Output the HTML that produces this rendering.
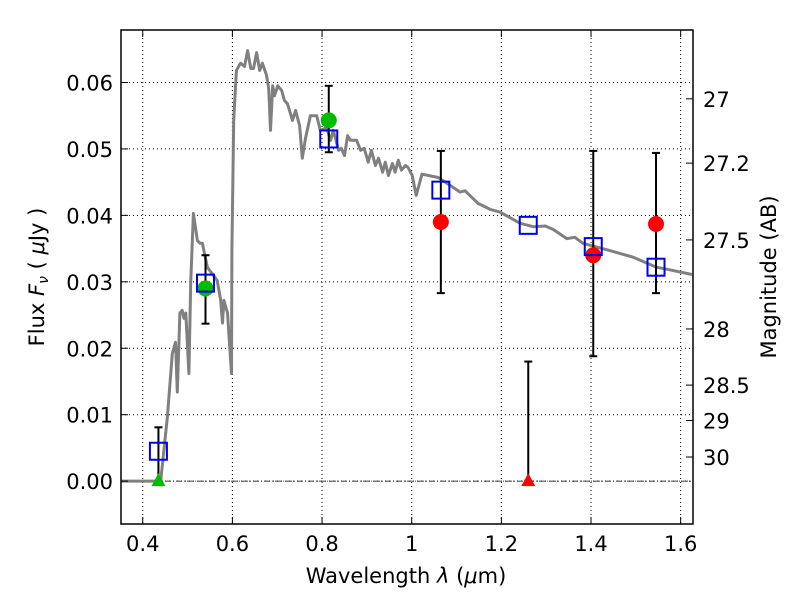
<!DOCTYPE html>
<html><head><meta charset="utf-8"><style>
body{margin:0;background:#fff}
svg text{font-family:"DejaVu Sans","Liberation Sans",sans-serif;fill:#000}
</style></head><body>
<svg id="chart" width="800" height="600" xmlns="http://www.w3.org/2000/svg">
<g id="grid"></g>
<g id="spec"></g>
<g id="marks"></g>
<g id="axes"></g>
<text x="406" y="583" font-size="21" text-anchor="middle">Wavelength  <tspan font-style="italic">λ</tspan> (<tspan font-style="italic">μ</tspan>m)</text>
<text transform="translate(44,277) rotate(-90)" font-size="21" text-anchor="middle">Flux  <tspan font-style="italic">F</tspan><tspan font-style="italic" font-size="14" dy="4">ν</tspan><tspan dy="-4">  ( </tspan><tspan font-style="italic">μ</tspan>Jy )</text>
<text transform="translate(776,277) rotate(-90)" font-size="21" text-anchor="middle">Magnitude (AB)</text>
</svg>
<script>
const specWave=[0.353,0.436,0.440,0.455,0.466,0.473,0.477,0.483,0.488,0.492,0.496,0.503,0.507,0.513,0.522,0.528,0.533,0.544,0.566,0.574,0.578,0.581,0.589,0.598,0.599,0.603,0.609,0.618,0.627,0.634,0.641,0.647,0.654,0.661,0.667,0.676,0.681,0.685,0.690,0.694,0.701,0.710,0.716,0.723,0.734,0.741,0.750,0.756,0.763,0.774,0.788,0.796,0.810,0.819,0.825,0.837,0.843,0.850,0.857,0.863,0.877,0.886,0.894,0.903,0.910,0.919,0.926,0.935,0.941,0.948,0.957,0.963,0.970,0.977,0.986,0.992,1.001,1.010,1.023,1.059,1.086,1.108,1.119,1.148,1.175,1.197,1.242,1.271,1.298,1.315,1.346,1.364,1.382,1.442,1.494,1.546,1.569,1.625];
const specFlux=[0,0,0,0.0097,0.0192,0.0209,0.0134,0.0253,0.0257,0.0245,0.0253,0.0162,0.0298,0.0403,0.0362,0.0358,0.0358,0.0322,0.0302,0.0272,0.0238,0.0272,0.0253,0.0162,0.0347,0.0543,0.0618,0.0629,0.0624,0.0648,0.0621,0.0621,0.0645,0.0618,0.0629,0.0611,0.0591,0.0528,0.0595,0.0580,0.0595,0.0588,0.0573,0.0568,0.0543,0.0558,0.0535,0.0486,0.0516,0.0550,0.0550,0.0528,0.0532,0.0513,0.0528,0.0498,0.0501,0.0490,0.0520,0.0513,0.0513,0.0498,0.0501,0.0480,0.0498,0.0475,0.0486,0.0465,0.0480,0.0460,0.0478,0.0465,0.0483,0.0468,0.0475,0.0472,0.0460,0.0430,0.0462,0.0457,0.0445,0.0435,0.0437,0.0418,0.0409,0.0405,0.0388,0.0383,0.0384,0.0379,0.0365,0.0367,0.0358,0.0347,0.0337,0.0322,0.0319,0.0311];
const bandWave=[0.435,0.54,0.815,1.065,1.26,1.405,1.545];
const modelFlux=[0.0045,0.0298,0.0515,0.0438,0.0385,0.0353,0.0322];
const obsFlux=[0,0.029,0.0543,0.039,0,0.034,0.0387];
const errLo=[0,0.0237,0.0495,0.0283,0,0.0188,0.0283];
const errHi=[0.0081,0.0340,0.0595,0.0497,0.018,0.0497,0.0494];
const obsColor=['#00bb00','#00bb00','#00bb00','red','red','red','red'];
const upperLimit=[true,false,false,false,true,false,false];
const xTicks=[0.4,0.6,0.8,1.0,1.2,1.4,1.6];
const xTickLabels=['0.4','0.6','0.8','1','1.2','1.4','1.6'];
const yTicks=[0,0.01,0.02,0.03,0.04,0.05,0.06];
const yTickLabels=['0.00','0.01','0.02','0.03','0.04','0.05','0.06'];
const magTicks=[27,27.2,27.5,28,28.5,29,30];
const magTickLabels=['27','27.2','27.5','28','28.5','29','30'];

const L=121,R=693,T=30,B=524;
const xMin=0.3515,xMax=1.6275,yMin=-0.00645,yMax=0.0679;
const X=v=>L+(v-xMin)/(xMax-xMin)*(R-L);
const Y=v=>B-(v-yMin)/(yMax-yMin)*(B-T);
const NS='http://www.w3.org/2000/svg';
function mk(tag,attrs,parent){const e=document.createElementNS(NS,tag);for(const k in attrs)e.setAttribute(k,attrs[k]);parent.appendChild(e);return e;}
const grid=document.getElementById('grid'),spec=document.getElementById('spec'),marks=document.getElementById('marks'),axes=document.getElementById('axes');

xTicks.forEach((t,i)=>{
  const l=mk('line',{x1:X(t),x2:X(t),y1:T,y2:B,stroke:'#000','stroke-width':1,'stroke-dasharray':'1,3'},grid);
  
  
  mk('line',{x1:X(t),x2:X(t),y1:B,y2:B-7,stroke:'#000','stroke-width':1},axes);
  mk('line',{x1:X(t),x2:X(t),y1:T,y2:T+7,stroke:'#000','stroke-width':1},axes);
  const tx=mk('text',{x:X(t),y:B+27,'font-size':21,'text-anchor':'middle'},axes);
  tx.textContent=xTickLabels[i];
  
  
});
yTicks.forEach((t,i)=>{
  const l=mk('line',{x1:L,x2:R,y1:Y(t),y2:Y(t),stroke:'#000','stroke-width':1,'stroke-dasharray':'1,3'},grid);
  
  
  mk('line',{x1:L,x2:L+7,y1:Y(t),y2:Y(t),stroke:'#000','stroke-width':1},axes);
  const tx=mk('text',{x:L-8,y:Y(t)+8,'font-size':21,'text-anchor':'end'},axes);
  tx.textContent=yTickLabels[i];
  
  
});
magTicks.forEach((m,i)=>{
  const f=Math.pow(10,(23.9-m)/2.5);
  mk('line',{x1:R,x2:R-7,y1:Y(f),y2:Y(f),stroke:'#000','stroke-width':1},axes);
  const tx=mk('text',{x:R+10,y:Y(f)+8,'font-size':21},axes);
  tx.textContent=magTickLabels[i];
  
  
});
const zl=mk('line',{x1:L,x2:R,y1:Y(0),y2:Y(0),stroke:'#000','stroke-width':0.8,'stroke-dasharray':'6,2,1,2'},grid);



const pts=specWave.map((w,i)=>X(w).toFixed(1)+','+Y(specFlux[i]).toFixed(1)).join(' ');
const pl=mk('polyline',{points:pts,fill:'none',stroke:'#808080','stroke-width':3,'stroke-linejoin':'round'},spec);



bandWave.forEach((w,i)=>{
  const x=X(w);
  const eb=mk('g',{},marks);
  
  
  mk('line',{x1:x,x2:x,y1:Y(errLo[i]),y2:Y(errHi[i]),stroke:'#000','stroke-width':2},eb);
  mk('line',{x1:x-4,x2:x+4,y1:Y(errLo[i]),y2:Y(errLo[i]),stroke:'#000','stroke-width':2},eb);
  mk('line',{x1:x-4,x2:x+4,y1:Y(errHi[i]),y2:Y(errHi[i]),stroke:'#000','stroke-width':2},eb);
});
bandWave.forEach((w,i)=>{
  const x=X(w),y=Y(obsFlux[i]);let m;
  if(upperLimit[i]){m=mk('polygon',{points:`${x},${y-8} ${x-7},${y+5} ${x+7},${y+5}`,fill:obsColor[i]},marks);}
  else{m=mk('circle',{cx:x,cy:y,r:8,fill:obsColor[i]},marks);}
  
  
});
bandWave.forEach((w,i)=>{
  const r=mk('rect',{x:X(w)-8.5,y:Y(modelFlux[i])-8.5,width:17,height:17,fill:'none',stroke:'#0000ee','stroke-width':2},marks);
  
  
});
const fr=mk('rect',{x:L,y:T,width:R-L,height:B-T,fill:'none',stroke:'#000','stroke-width':1.5},axes);


</script>
</body></html>
